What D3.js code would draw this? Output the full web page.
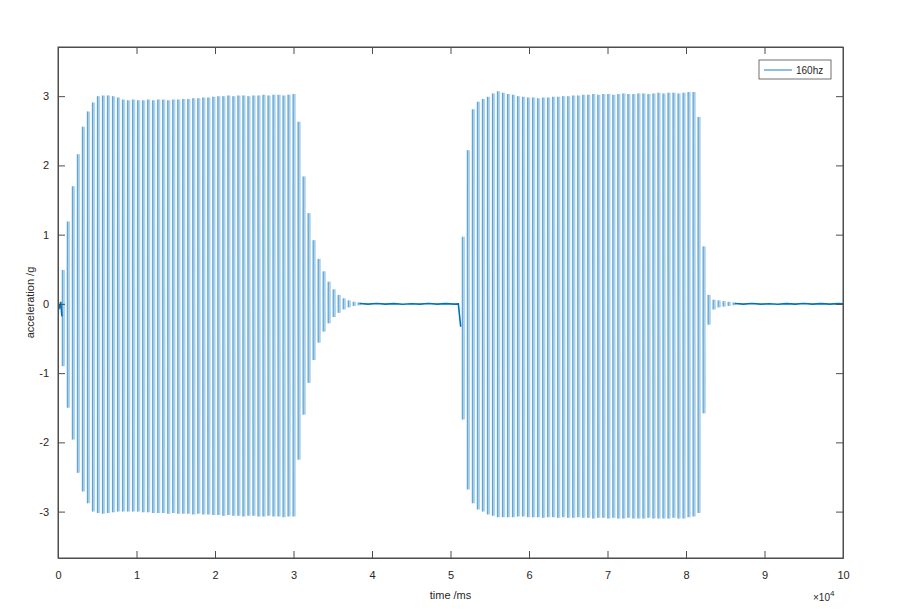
<!DOCTYPE html>
<html>
<head>
<meta charset="utf-8">
<script src="https://cdn.jsdelivr.net/npm/d3@7"></script>
<style>
  html, body { margin: 0; padding: 0; background: #ffffff; }
  svg { display: block; font-family: "Liberation Sans", Arial, sans-serif; }
</style>
</head>
<body>
<svg id="chart" width="910" height="610"></svg>
<script>
// ---------------- DATA ----------------
const seriesName = "160hz";
const xTicks = [0, 10000, 20000, 30000, 40000, 50000, 60000, 70000, 80000, 90000, 100000];
const xTickLabels = ["0", "1", "2", "3", "4", "5", "6", "7", "8", "9", "10"];
const yTicks = [-3, -2, -1, 0, 1, 2, 3];
const yTickLabels = ["-3", "-2", "-1", "0", "1", "2", "3"];

// cycle sampling of the visible (aliased) oscillation, ms
const cyclePeriod = 639;

// burst 1: start time and peak values of each visible cycle
const burst1Start = 675;
const burst1Tops = [0.49, 1.19, 1.70, 2.16, 2.56, 2.78, 2.91, 3.00, 3.01, 3.01, 3.00, 2.98, 2.95,
  2.94, 2.95, 2.94, 2.94, 2.95, 2.94, 2.95, 2.95, 2.94, 2.95, 2.95,
  2.96, 2.96, 2.97, 2.97, 2.98, 2.98, 2.99,
  3.00, 3.00, 3.01, 3.00, 3.01, 3.01, 3.00, 3.01, 3.01, 3.02, 3.01, 3.02, 3.02, 3.01, 3.02, 3.03,
  2.63, 1.84, 1.31, 0.92, 0.65, 0.47, 0.32, 0.21, 0.13, 0.08, 0.05, 0.03, 0.02];
const burst1Bottoms = [-0.90, -1.50, -1.96, -2.44, -2.71, -2.88, -3.00, -3.02, -3.03, -3.02, -3.01, -3.00, -3.00,
  -3.00, -3.00, -3.00, -3.01, -3.01, -3.02, -3.02, -3.02, -3.03, -3.02, -3.03,
  -3.03, -3.03, -3.04, -3.03, -3.04, -3.04, -3.05,
  -3.05, -3.06, -3.05, -3.06, -3.06, -3.07, -3.06, -3.06, -3.07, -3.07, -3.06, -3.07, -3.07, -3.08, -3.07, -3.07,
  -2.25, -1.60, -1.14, -0.81, -0.56, -0.40, -0.28, -0.19, -0.13, -0.08, -0.05, -0.03, -0.02];

// burst 2
const burst2Start = 51631;
const burst2Tops = [0.97, 2.22, 2.81, 2.92, 2.96, 2.99, 3.04, 3.07, 3.05, 3.03, 3.02,
  3.00, 2.99, 2.98, 2.98, 2.97, 2.98, 2.98, 2.99, 2.99, 3.00, 3.00, 3.01, 3.01,
  3.02, 3.02, 3.03, 3.02, 3.03, 3.03, 3.02, 3.03, 3.04, 3.03, 3.03, 3.04, 3.04, 3.03, 3.04, 3.05,
  3.04, 3.05, 3.05, 3.04, 3.05, 3.06, 3.06, 2.70,
  0.83, 0.13, 0.06, 0.05, 0.04, 0.03, 0.02];
const burst2Bottoms = [-1.67, -2.68, -2.88, -2.97, -3.00, -3.04, -3.06, -3.08, -3.08, -3.08, -3.08,
  -3.07, -3.07, -3.08, -3.08, -3.08, -3.09, -3.08, -3.08, -3.09, -3.08, -3.09, -3.09, -3.08,
  -3.09, -3.09, -3.10, -3.09, -3.09, -3.10, -3.09, -3.10, -3.10, -3.09, -3.10, -3.10, -3.10, -3.09,
  -3.10, -3.10, -3.10, -3.10, -3.09, -3.10, -3.10, -3.08, -3.07, -3.02,
  -1.58, -0.30, -0.08, -0.05, -0.04, -0.03, -0.02];

// quiet (near-zero) stretches: time (ms) and value (g)
const leadTimes = [0, 200, 350, 500];
const leadValues = [0, -0.05, 0.03, -0.18];
const quiet1Times = [38400, 39500, 40600, 41700, 42800, 43900, 45000, 46100, 47200, 48300, 49400, 50500, 51000, 51300];
const quiet1Values = [0.006, -0.004, 0.005, -0.003, 0.004, -0.005, 0.003, -0.004, 0.005, -0.003, 0.004, -0.004, 0.0, -0.33];
const quiet2Times = [86200, 87300, 88400, 89500, 90600, 91700, 92800, 93900, 95000, 96100, 97200, 98300, 99400, 100000];
const quiet2Values = [0.006, -0.004, 0.005, -0.004, 0.003, -0.005, 0.004, -0.003, 0.005, -0.004, 0.004, -0.003, 0.004, 0.0];

// ---------------- LAYOUT ----------------
const W = 910, H = 610;
const margin = { left: 58, right: 67, top: 47, bottom: 52 };
const iw = W - margin.left - margin.right;
const ih = H - margin.top - margin.bottom;
const lineColor = "#0072BD";
const axisColor = "#4d4d4d";

const svg = d3.select("#chart");
const g = svg.append("g").attr("transform", `translate(${margin.left},${margin.top})`);

const x = d3.scaleLinear().domain([0, 100000]).range([0, iw]);
const y = d3.scaleLinear().domain([-3.67, 3.71]).range([ih, 0]);

function cycles(start, tops, bottoms) {
  return tops.map((tp, i) => ({ t: start + i * cyclePeriod, top: tp, bottom: bottoms[i] }));
}
const allCycles = cycles(burst1Start, burst1Tops, burst1Bottoms)
  .concat(cycles(burst2Start, burst2Tops, burst2Bottoms));

g.append("clipPath").attr("id", "clip")
  .append("rect").attr("width", iw).attr("height", ih);
const plot = g.append("g").attr("clip-path", "url(#clip)");

// zigzag connecting the extremes (faint)
const zig = [];
[[burst1Start, burst1Tops, burst1Bottoms], [burst2Start, burst2Tops, burst2Bottoms]].forEach(([s, tp, bt]) => {
  const seg = [];
  tp.forEach((v, i) => {
    seg.push({ t: s + i * cyclePeriod, v: v });
    seg.push({ t: s + i * cyclePeriod + 1, v: bt[i] });
  });
  zig.push(seg);
});
const line = d3.line().x(d => x(d.t)).y(d => y(d.v));

plot.selectAll("path.zig").data(zig).join("path")
  .attr("class", "zig")
  .attr("d", line)
  .attr("fill", "none")
  .attr("stroke", lineColor)
  .attr("stroke-opacity", 0.08)
  .attr("stroke-width", 0.6);

// light bands
plot.selectAll("line.band").data(allCycles).join("line")
  .attr("class", "band")
  .attr("x1", d => x(d.t)).attr("x2", d => x(d.t))
  .attr("y1", d => y(d.top)).attr("y2", d => y(d.bottom))
  .attr("stroke", lineColor)
  .attr("stroke-opacity", 0.3)
  .attr("stroke-width", 3.4);
// dark core lines
plot.selectAll("line.core").data(allCycles).join("line")
  .attr("class", "core")
  .attr("x1", d => x(d.t) - 0.9).attr("x2", d => x(d.t) - 0.9)
  .attr("y1", d => y(d.top)).attr("y2", d => y(d.bottom))
  .attr("stroke", lineColor)
  .attr("stroke-opacity", 0.55)
  .attr("stroke-width", 0.9);

// quiet stretches
function pts(ts, vs) { return ts.map((t, i) => ({ t: t, v: vs[i] })); }
const quietSegs = [pts(leadTimes, leadValues), pts(quiet1Times, quiet1Values), pts(quiet2Times, quiet2Values)];
plot.selectAll("path.quiet").data(quietSegs).join("path")
  .attr("class", "quiet")
  .attr("d", line)
  .attr("fill", "none")
  .attr("stroke", lineColor)
  .attr("stroke-width", 1.6);

// ---------------- AXES (MATLAB box style) ----------------
const tickLen = 7;
g.append("rect").attr("x", 0).attr("y", 0).attr("width", iw).attr("height", ih)
  .attr("fill", "none").attr("stroke", axisColor).attr("stroke-width", 1);

const xAxisB = d3.axisBottom(x).tickValues(xTicks).tickSizeInner(-tickLen).tickSizeOuter(0)
  .tickPadding(13).tickFormat((d, i) => xTickLabels[i]);
const gxb = g.append("g").attr("transform", `translate(0,${ih})`).call(xAxisB);
const xAxisT = d3.axisTop(x).tickValues(xTicks).tickSizeInner(-tickLen).tickSizeOuter(0).tickFormat("");
const gxt = g.append("g").call(xAxisT);
const yAxisL = d3.axisLeft(y).tickValues(yTicks).tickSizeInner(-tickLen).tickSizeOuter(0)
  .tickPadding(9).tickFormat((d, i) => yTickLabels[i]);
const gyl = g.append("g").call(yAxisL);
const yAxisR = d3.axisRight(y).tickValues(yTicks).tickSizeInner(-tickLen).tickSizeOuter(0).tickFormat("");
const gyr = g.append("g").attr("transform", `translate(${iw},0)`).call(yAxisR);

[gxb, gxt, gyl, gyr].forEach(a => {
  a.select(".domain").attr("stroke", axisColor);
  a.selectAll(".tick line").attr("stroke", axisColor);
  a.selectAll(".tick text").attr("fill", "#262626").attr("font-size", 11)
    .attr("font-family", "'Liberation Sans', Arial, sans-serif");
});

// labels
svg.append("text").attr("x", margin.left + iw / 2).attr("y", 599)
  .attr("text-anchor", "middle").attr("font-size", 11).attr("fill", "#262626")
  .text("time /ms");
svg.append("text").attr("transform", `translate(34,${margin.top + ih / 2}) rotate(-90)`)
  .attr("text-anchor", "middle").attr("font-size", 11).attr("fill", "#262626")
  .text("acceleration /g");
const expT = svg.append("text").attr("x", margin.left + iw - 30).attr("y", 601)
  .attr("font-size", 10).attr("fill", "#262626");
expT.append("tspan").text("\u00d710");
expT.append("tspan").attr("dy", -5).attr("font-size", 8).text("4");

// legend
const lg = svg.append("g").attr("transform", "translate(759,60)");
lg.append("rect").attr("width", 72).attr("height", 19)
  .attr("fill", "#ffffff").attr("stroke", axisColor).attr("stroke-width", 0.8);
lg.append("line").attr("x1", 5).attr("x2", 33).attr("y1", 10).attr("y2", 10)
  .attr("stroke", lineColor).attr("stroke-opacity", 0.75).attr("stroke-width", 1.2);
lg.append("text").attr("x", 37).attr("y", 13.5).attr("font-size", 10).attr("fill", "#262626")
  .text(seriesName);
</script>
</body>
</html>
